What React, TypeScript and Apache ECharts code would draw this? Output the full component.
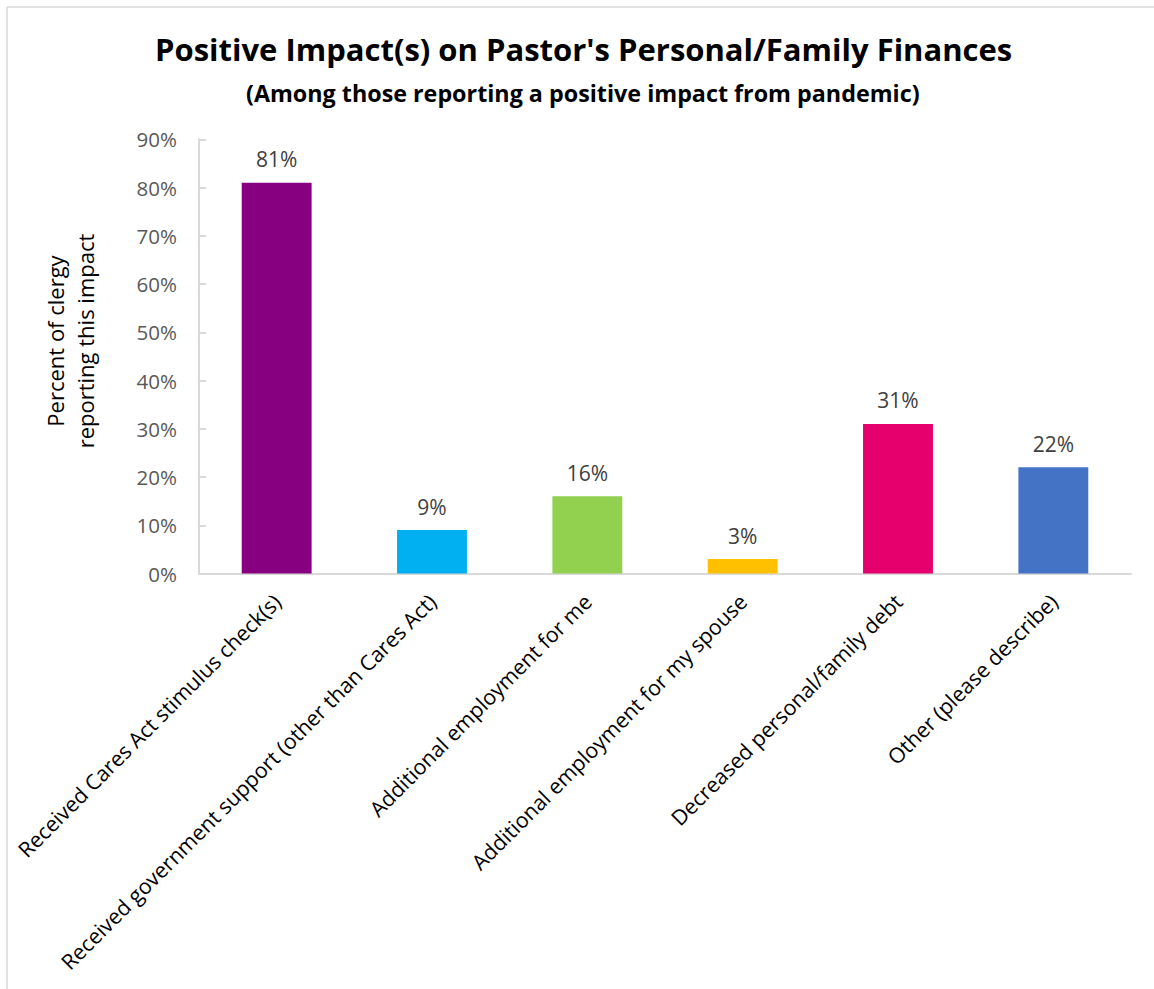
import React, { useEffect, useRef } from "react";
import * as echarts from "echarts";

const categories = [
  "Received Cares Act stimulus check(s)",
  "Received government support (other than Cares Act)",
  "Additional employment for me",
  "Additional employment for my spouse",
  "Decreased personal/family debt",
  "Other (please describe)",
];
const values = [81, 9, 16, 3, 31, 22];
const barColors = ["#870080", "#00B0F0", "#92D050", "#FFC000", "#E5006E", "#4472C4"];
const titleText = "Positive Impact(s) on Pastor's Personal/Family Finances";
const subtitleText = "(Among those reporting a positive impact from pandemic)";
const yAxisName = "Percent of clergy\nreporting this impact";

const FONT = "'Open Sans', Lato, sans-serif";

export default function App() {
  const ref = useRef<HTMLDivElement>(null);
  useEffect(() => {
    if (!ref.current) return;
    const chart = echarts.init(ref.current, undefined, { renderer: "svg" });
    chart.setOption({
      animation: false,
      backgroundColor: "#ffffff",
      textStyle: { fontFamily: FONT },
      title: [
        {
          text: titleText,
          left: 150,
          top: 28,
          textStyle: { fontFamily: FONT, fontSize: 31, fontWeight: "bold", color: "#000000" },
        },
        {
          text: subtitleText,
          left: 241,
          top: 76,
          textStyle: { fontFamily: FONT, fontSize: 23.3, fontWeight: "bold", color: "#000000" },
        },
      ],
      graphic: [
        { type: "line", shape: { x1: 7, y1: 7, x2: 1154, y2: 7 }, style: { stroke: "#d9d9d9", lineWidth: 1.5 } },
        { type: "line", shape: { x1: 7, y1: 7, x2: 7, y2: 989 }, style: { stroke: "#d9d9d9", lineWidth: 1.5 } },
        {
          type: "text",
          x: 70,
          y: 341,
          rotation: Math.PI / 2,
          style: {
            text: yAxisName,
            fontSize: 22,
            lineHeight: 30,
            fontFamily: FONT,
            fill: "#000000",
            align: "center",
            verticalAlign: "middle",
          },
        },
      ],
      grid: { left: 199, right: 23, top: 139.3, bottom: 989 - 573.5, containLabel: false },
      xAxis: {
        type: "category",
        data: categories,
        axisLine: { lineStyle: { color: "#d9d9d9", width: 2 } },
        axisTick: { show: false },
        axisLabel: {
          rotate: 45,
          interval: 0,
          margin: 24,
          fontSize: 21.3,
          color: "#000000",
          fontFamily: FONT,
        },
      },
      yAxis: {
        type: "value",
        min: 0,
        max: 90,
        interval: 10,
        axisLine: { show: true, lineStyle: { color: "#d9d9d9", width: 2 } },
        axisTick: { show: true, inside: true, length: 7, lineStyle: { color: "#d9d9d9", width: 2 } },
        splitLine: { show: false },
        axisLabel: {
          formatter: "{value}%",
          margin: 22,
          fontSize: 20.5,
          color: "#595959",
          fontFamily: FONT,
        },
      },
      series: [
        {
          type: "bar",
          data: values.map((v, i) => ({ value: v, itemStyle: { color: barColors[i] } })),
          barWidth: "45%",
          label: {
            show: true,
            position: "top",
            distance: 13,
            formatter: "{c}%",
            fontSize: 21,
            color: "#404040",
            fontFamily: FONT,
          },
        },
      ],
    });
    return () => chart.dispose();
  }, []);
  return (
    <div
      ref={ref}
      style={{ position: "absolute", left: 0, top: 0, width: 1154, height: 989 }}
    />
  );
}
